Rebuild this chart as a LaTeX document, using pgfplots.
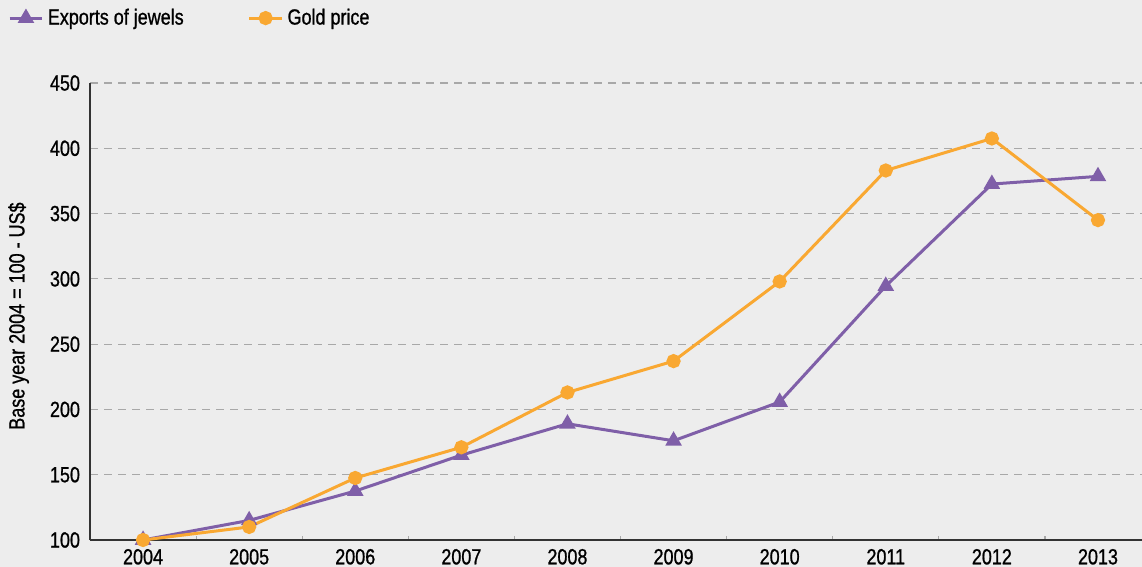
\documentclass[border=0pt]{standalone}
\usepackage{fontspec}
\setmainfont[FakeStretch=0.82, FakeBold=0.9]{Liberation Sans}
\usepackage{pgfplots}
\pgfplotsset{compat=1.18}
\usetikzlibrary{backgrounds}
\definecolor{bg}{HTML}{EDEDED}
\definecolor{jewel}{HTML}{7F5FA8}
\definecolor{gold}{HTML}{F9A832}
\definecolor{grid}{HTML}{A8A8A8}
\begin{document}
\begin{tikzpicture}
\begin{axis}[
  scale only axis, width=526bp, height=228.5bp,
  xmin=2003.5, xmax=2013.415, ymin=100, ymax=450,
  axis lines*=left,
  axis line style={draw=black!80, line width=0.8pt, -},
  xtick=data,
  minor xtick={2004.5,2005.5,...,2012.5},
  ytick={100,150,...,450},
  ymajorgrids,
  major grid style={draw=grid, dash pattern=on 4bp off 3bp, line width=0.6pt},
  major tick length=0pt, minor tick length=2bp, tick align=inside,
  minor tick style={draw=grid, line width=0.6pt},
  font=\fontsize{11}{13}\selectfont,
  /pgf/number format/assume math mode=true,
  /pgf/number format/1000 sep={},
  xticklabel style={yshift=-1bp},
  yticklabel style={xshift=-1.5bp},
  ylabel={Base year 2004 = 100 - US\$},
  ylabel style={at={(axis description cs:0,0.49)}, anchor=south, yshift=27bp},
  legend columns=2,
  legend style={draw=none, fill=none, at={(axis description cs:-0.084,1.142)}, anchor=west,
    font=\fontsize{11}{13}\selectfont,
    /tikz/every even column/.append style={column sep=30bp}},
  legend image code/.code={\draw[#1, mark repeat=2, mark phase=2] plot coordinates {(0cm,0cm) (0.29cm,0cm) (0.58cm,0cm)};},
  clip=false,
]
\addplot[jewel, line width=1.5bp, mark=triangle*, mark size=3.3bp] coordinates {
  (2004,100) (2005,115) (2006,137.5) (2007,165) (2008,189)
  (2009,176) (2010,205.7) (2011,294.5) (2012,372.6) (2013,378.5)};
\addplot[gold, line width=1.5bp, mark=*, mark size=2.8bp] coordinates {
  (2004,100) (2005,110) (2006,147.5) (2007,171) (2008,213)
  (2009,237) (2010,298) (2011,383) (2012,407.5) (2013,345)};
\legend{Exports of jewels, Gold price}
\end{axis}
\pgfresetboundingbox
\path[use as bounding box] (-45bp,-13.5bp) rectangle (526bp,270bp);
\begin{pgfonlayer}{background}
\fill[bg] (-45bp,-13.5bp) rectangle (526bp,270bp);
\end{pgfonlayer}
\end{tikzpicture}
\end{document}
